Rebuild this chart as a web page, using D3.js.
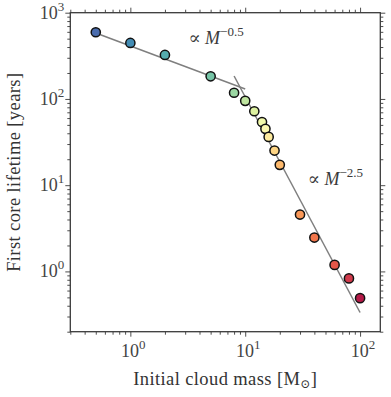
<!DOCTYPE html>
<html>
<head>
<meta charset="utf-8">
<script src="https://cdn.jsdelivr.net/npm/d3@7.9.0/dist/d3.min.js"></script>
<style>
  body { margin: 0; background: #fff; }
  svg { display: block; font-family: "Liberation Serif", "DejaVu Serif", serif; }
</style>
</head>
<body>
<svg width="391" height="397"></svg>
<script>
// initial cloud mass [Msun] and first core lifetime [years]
const masses = [0.5, 1, 2, 5, 8, 10, 12, 14, 15, 16, 18, 20, 30, 40, 60, 80, 100];
const lifetimes = [593, 446, 324, 183, 118, 95, 72, 54, 45, 36.3, 25.2, 17.2, 4.56, 2.47, 1.19, 0.83, 0.49];

// power-law guides: [mass start, mass end], normalisation, exponent
const fitShallow = { range: [0.5, 10], norm: 411.5, slope: -0.5 };
const fitSteep = { range: [8, 100], norm: 33400, slope: -2.5 };

const xMajor = [1, 10, 100];
const yMajor = [1, 10, 100, 1000];

const width = 391, height = 397;
const margin = { top: 12.7, right: 10.7, bottom: 65.3, left: 70.3 };

const svg = d3.select('svg');

const x = d3.scaleLog().domain([0.3, 150]).range([margin.left, width - margin.right]);
const y = d3.scaleLog().domain([0.2, 1000]).range([height - margin.bottom, margin.top]);

const axisColor = '#3a3a3a';

// minor tick values
function minorTicks(lo, hi) {
  let out = [];
  for (let e = -2; e <= 3; e++) {
    for (let k = 1; k < 10; k++) {
      let v = k * Math.pow(10, e);
      if (v >= lo && v <= hi && k !== 1) out.push(v);
    }
  }
  return out;
}

const plotW = width - margin.left - margin.right;
const plotH = height - margin.top - margin.bottom;

function drawAxis(gen, transform) {
  let g = svg.append('g').attr('transform', transform).call(gen);
  g.select('.domain').remove();
  g.selectAll('line').attr('stroke', axisColor).attr('stroke-width', 0.9);
  g.selectAll('text').remove();
}

// minor + major ticks on all four sides, pointing outward
const xMin = minorTicks(0.3, 150), yMin = minorTicks(0.2, 1000);
drawAxis(d3.axisBottom(x).tickValues(xMin).tickSize(3), `translate(0,${height - margin.bottom})`);
drawAxis(d3.axisBottom(x).tickValues(xMajor).tickSize(5), `translate(0,${height - margin.bottom})`);
drawAxis(d3.axisTop(x).tickValues(xMin).tickSize(3), `translate(0,${margin.top})`);
drawAxis(d3.axisTop(x).tickValues(xMajor).tickSize(5), `translate(0,${margin.top})`);
drawAxis(d3.axisLeft(y).tickValues(yMin).tickSize(3), `translate(${margin.left},0)`);
drawAxis(d3.axisLeft(y).tickValues(yMajor).tickSize(5), `translate(${margin.left},0)`);
drawAxis(d3.axisRight(y).tickValues(yMin).tickSize(3), `translate(${width - margin.right},0)`);
drawAxis(d3.axisRight(y).tickValues(yMajor).tickSize(5), `translate(${width - margin.right},0)`);

svg.append('rect')
  .attr('x', margin.left).attr('y', margin.top)
  .attr('width', plotW).attr('height', plotH)
  .attr('fill', 'none').attr('stroke', axisColor).attr('stroke-width', 1.3);

// tick labels "10^n"
function powLabel(sel, v) {
  sel.append('tspan').text('10');
  sel.append('tspan').attr('dy', -8).attr('font-size', 13).text(Math.round(Math.log10(v)));
}
xMajor.forEach(v => {
  svg.append('text')
    .attr('x', x(v) + 3).attr('y', height - margin.bottom + 25)
    .attr('text-anchor', 'middle').attr('font-size', 18).attr('fill', '#444')
    .call(powLabel, v);
});
yMajor.forEach(v => {
  svg.append('text')
    .attr('x', margin.left - 6).attr('y', y(v) + 6)
    .attr('text-anchor', 'end').attr('font-size', 18).attr('fill', '#444')
    .call(powLabel, v);
});

// axis titles
svg.append('text')
  .attr('x', margin.left + plotW / 2).attr('y', 385)
  .attr('text-anchor', 'middle').attr('font-size', 18.5).attr('fill', '#333')
  .attr('letter-spacing', 0.4)
  .html('Initial cloud mass [M<tspan font-size="12" dy="3">⊙</tspan><tspan dy="-3">]</tspan>');

svg.append('text')
  .attr('transform', `translate(20,${margin.top + plotH / 2}) rotate(-90)`)
  .attr('text-anchor', 'middle').attr('font-size', 18.5).attr('fill', '#333')
  .attr('letter-spacing', 0.4)
  .text('First core lifetime [years]');

// power-law guide lines
const line = d3.line().x(d => x(d[0])).y(d => y(d[1]));
[fitShallow, fitSteep].forEach(f => {
  let pts = f.range.map(m => [m, f.norm * Math.pow(m, f.slope)]);
  svg.append('path')
    .attr('d', line(pts))
    .attr('fill', 'none').attr('stroke', '#7f7f7f').attr('stroke-width', 1.5);
});

// annotations
function annot(mx, ly, exp) {
  let t = svg.append('text')
    .attr('x', x(mx)).attr('y', y(ly))
    .attr('font-size', 18).attr('fill', '#3a3a3a');
  t.append('tspan').text('∝ ');
  t.append('tspan').attr('font-style', 'italic').text('M');
  t.append('tspan').attr('dy', -8).attr('font-size', 13).text(exp);
}
annot(3.2, 433, '−0.5');
annot(35, 10, '−2.5');

// data points, colored along the reversed spectral map by index
const colorIdx = d3.scaleLinear().domain([0, masses.length - 1]).range([0.95, 0.04]);
svg.append('g')
  .selectAll('circle')
  .data(masses)
  .join('circle')
  .attr('cx', d => x(d))
  .attr('cy', (d, i) => y(lifetimes[i]))
  .attr('r', 4.6)
  .attr('fill', (d, i) => d3.interpolateSpectral(colorIdx(i)))
  .attr('stroke', '#111')
  .attr('stroke-width', 1.5);
</script>
</body>
</html>
